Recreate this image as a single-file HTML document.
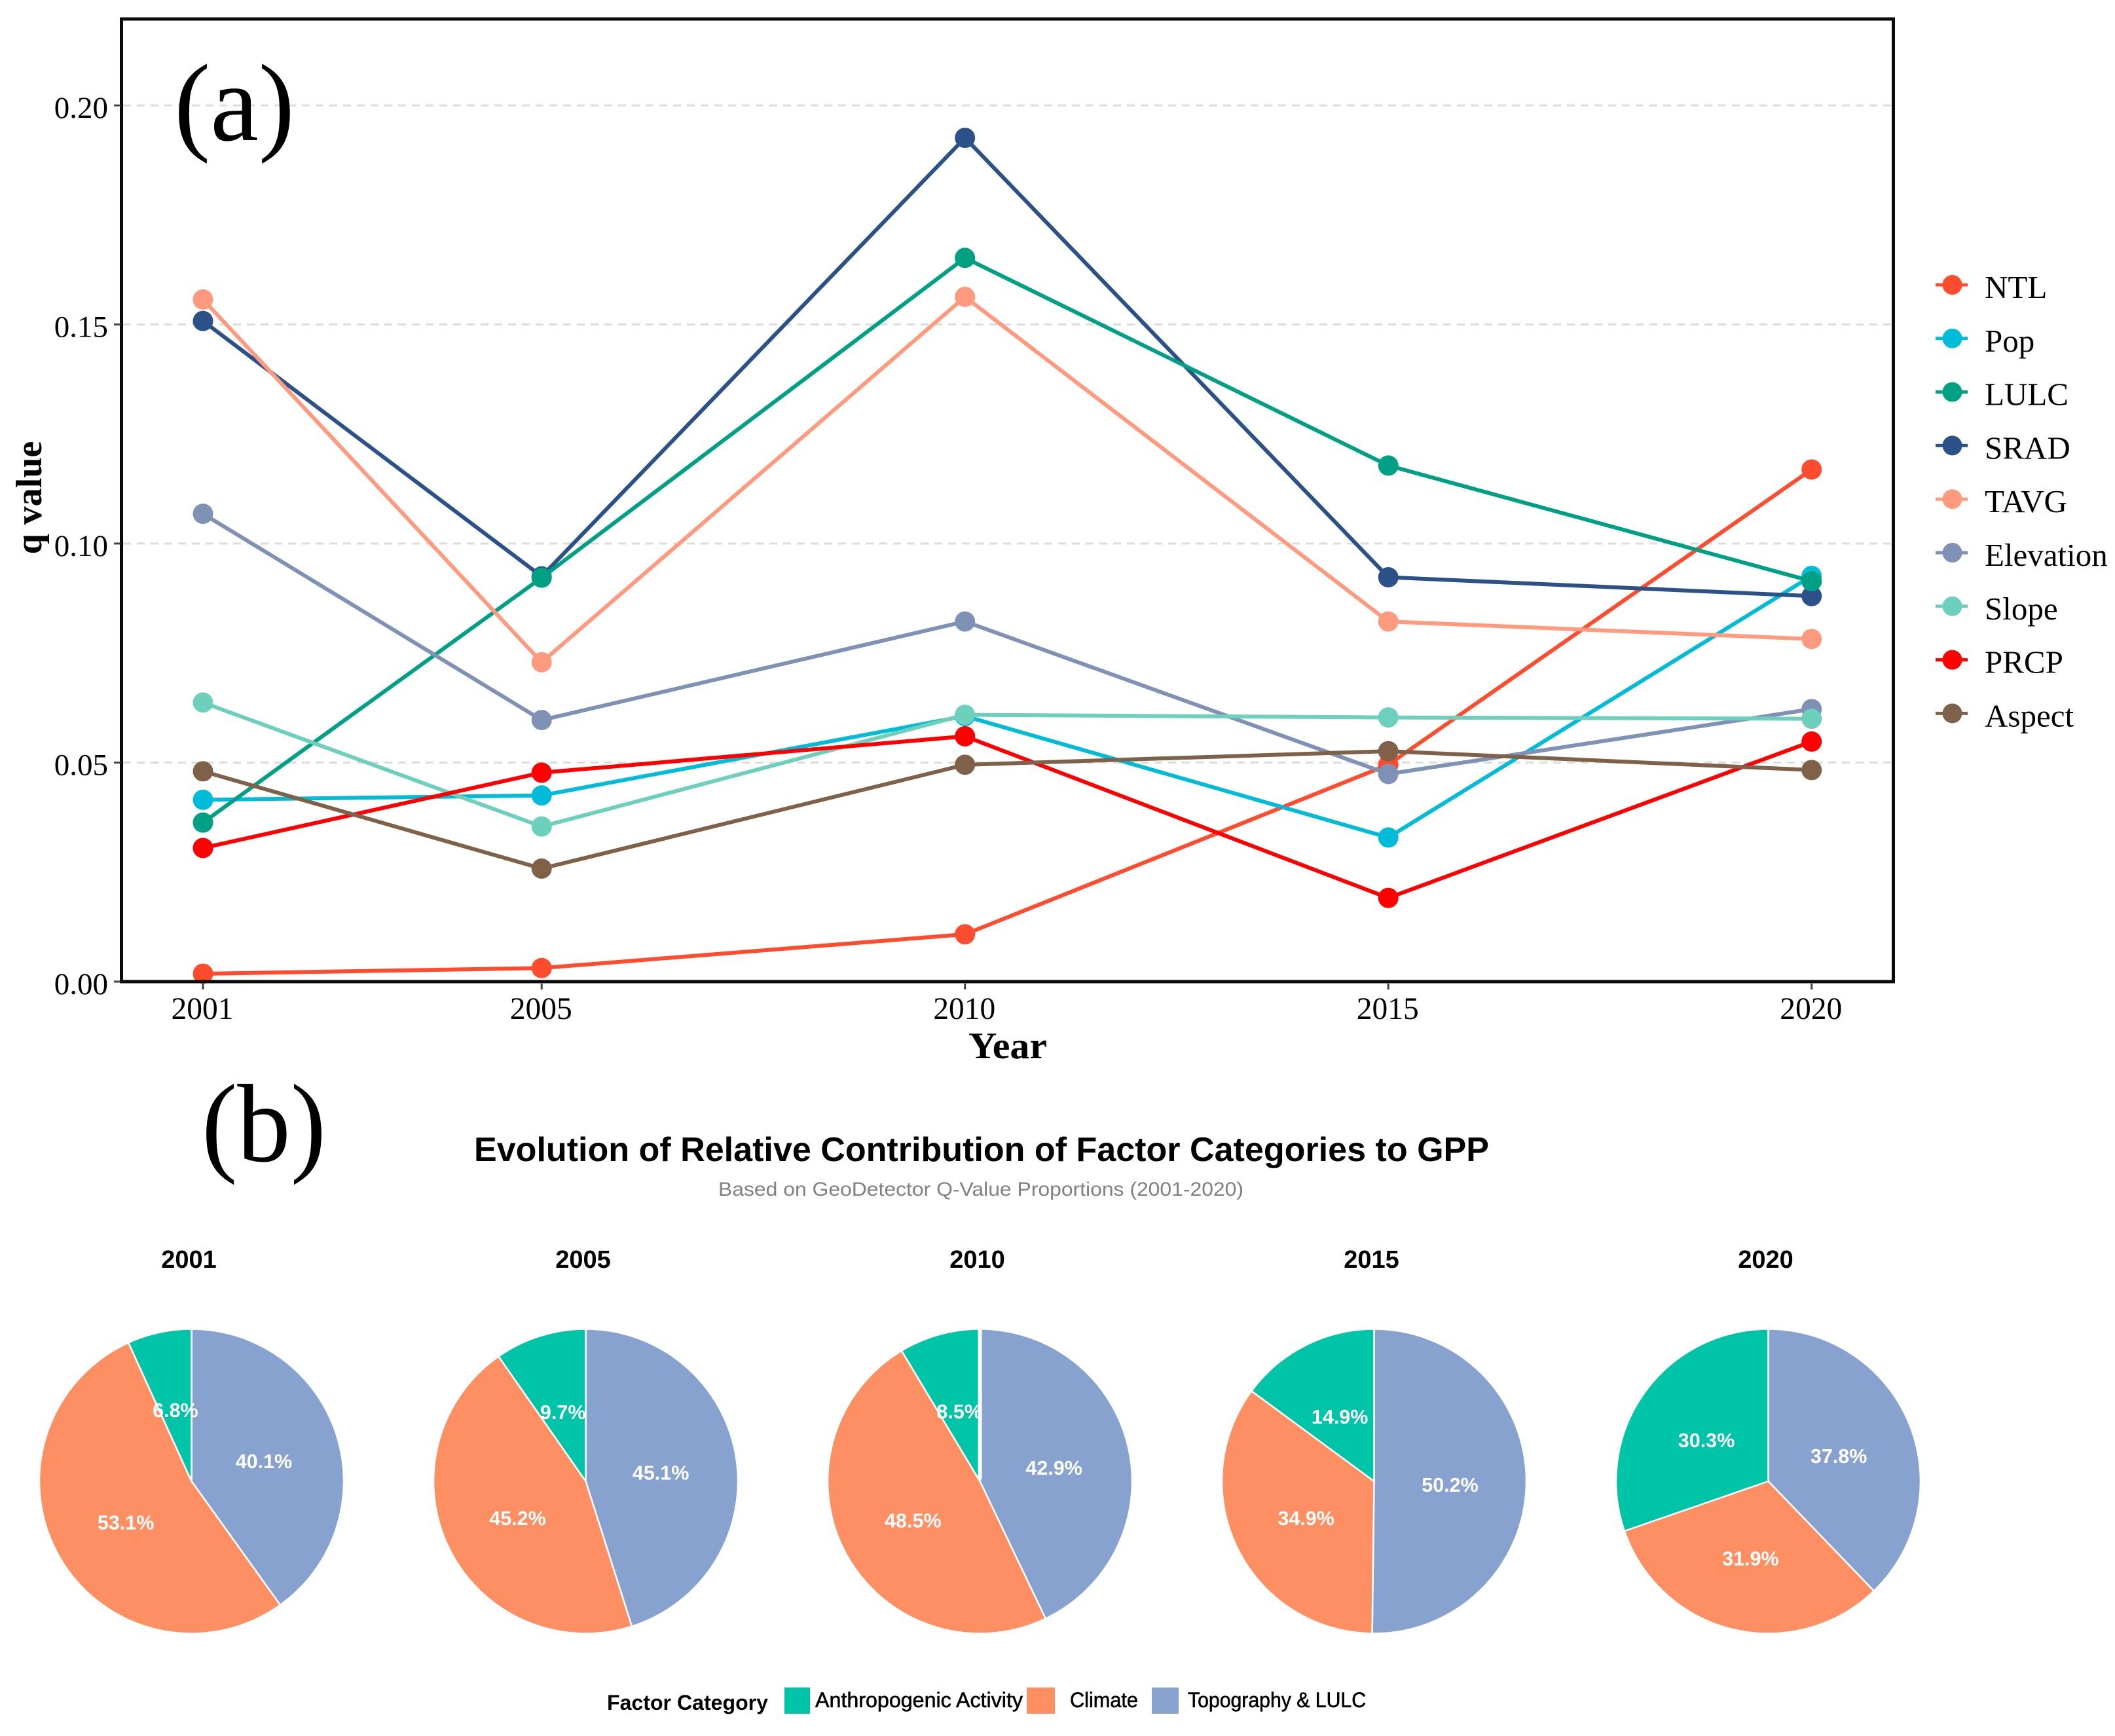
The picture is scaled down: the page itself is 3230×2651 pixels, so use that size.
<!DOCTYPE html>
<html lang="en">
<head>
<meta charset="utf-8">
<title>Q value trends and relative factor contribution to GPP</title>
<style>
  html, body { margin: 0; padding: 0; background: #fff; }
  svg { display: block; }
  .serif { font-family: "Liberation Serif", serif; }
  .sans { font-family: "Liberation Sans", sans-serif; }
</style>
</head>
<body>
<svg xmlns="http://www.w3.org/2000/svg" width="3230" height="2651" viewBox="0 0 3230 2651">
  <rect x="0" y="0" width="3230" height="2651" fill="#ffffff"/>

  <g id="grid"></g>
  <g id="series"></g>
  <rect x="185.5" y="29" width="2706" height="1470" fill="none" stroke="#0a0a0a" stroke-width="5"/>
  <g id="ticks"></g>

  <text class="serif" x="266" y="214" font-size="168" textLength="184" lengthAdjust="spacingAndGlyphs" fill="#000">(a)</text>
  <text class="serif" x="63" y="760" font-size="56" font-weight="bold" text-anchor="middle" transform="rotate(-90 63 760)" fill="#000">q value</text>
  <text class="serif" x="1479" y="1616" font-size="57" font-weight="bold" textLength="120" lengthAdjust="spacingAndGlyphs" fill="#000">Year</text>

  <g id="line-legend"></g>

  <text class="serif" x="308" y="1773" font-size="170" textLength="190" lengthAdjust="spacingAndGlyphs" fill="#000">(b)</text>
  <text class="sans" x="724" y="1773" font-size="52" font-weight="bold" textLength="1550" lengthAdjust="spacingAndGlyphs" fill="#000">Evolution of Relative Contribution of Factor Categories to GPP</text>
  <text class="sans" x="1097" y="1826" font-size="30" textLength="802" lengthAdjust="spacingAndGlyphs" fill="#808080">Based on GeoDetector Q-Value Proportions (2001-2020)</text>

  <g id="pies"></g>

  <g>
    <text class="sans" x="927" y="2611" font-size="32" font-weight="bold" textLength="246" lengthAdjust="spacingAndGlyphs" fill="#000">Factor Category</text>
    <rect x="1198" y="2577" width="39" height="40" fill="#00c4a7"/>
    <text class="sans" x="1245" y="2607" font-size="32" textLength="317" lengthAdjust="spacingAndGlyphs" fill="#000" stroke="#000" stroke-width="0.6">Anthropogenic Activity</text>
    <rect x="1568" y="2577" width="43" height="40" fill="#fe8f63"/>
    <text class="sans" x="1634" y="2607" font-size="32" textLength="104" lengthAdjust="spacingAndGlyphs" fill="#000" stroke="#000" stroke-width="0.6">Climate</text>
    <rect x="1759" y="2577" width="41" height="40" fill="#88a2cf"/>
    <text class="sans" x="1814" y="2607" font-size="32" textLength="272" lengthAdjust="spacingAndGlyphs" fill="#000" stroke="#000" stroke-width="0.6">Topography &amp; LULC</text>
  </g>
</svg>

<script>
// ---------- Line chart data ----------
const years = [2001, 2005, 2010, 2015, 2020];
const yTickValues = [0, 0.05, 0.10, 0.15, 0.20];
const yTickLabels = ['0.00', '0.05', '0.10', '0.15', '0.20'];
const gridValues = [0.05, 0.10, 0.15, 0.20];

const ntlValues = [0.0018, 0.0031, 0.0108, 0.0495, 0.1169];
const popValues = [0.0415, 0.0425, 0.0606, 0.0329, 0.0926];
const lulcValues = [0.0363, 0.0922, 0.1652, 0.1178, 0.0914];
const sradValues = [0.1508, 0.0925, 0.1926, 0.0923, 0.0880];
const tavgValues = [0.1557, 0.0729, 0.1563, 0.0822, 0.0782];
const elevationValues = [0.1068, 0.0597, 0.0822, 0.0474, 0.0622];
const slopeValues = [0.0637, 0.0354, 0.0609, 0.0603, 0.0600];
const prcpValues = [0.0305, 0.0477, 0.0560, 0.0191, 0.0548];
const aspectValues = [0.0480, 0.0258, 0.0495, 0.0526, 0.0483];

const seriesNames = ['NTL', 'Pop', 'LULC', 'SRAD', 'TAVG', 'Elevation', 'Slope', 'PRCP', 'Aspect'];
const seriesValues = [ntlValues, popValues, lulcValues, sradValues, tavgValues, elevationValues, slopeValues, prcpValues, aspectValues];
const seriesColors = ['#ff4b2e', '#00bcd8', '#00a085', '#2b5188', '#ff9a7f', '#7f91b5', '#6dd0bd', '#ff0000', '#7e6148'];
const drawOrder = [0, 1, 3, 2, 4, 5, 6, 7, 8];

// ---------- Pie chart data ----------
const pieYears = ['2001', '2005', '2010', '2015', '2020'];
const topographyShare = [40.1, 45.1, 42.9, 50.2, 37.8];
const climateShare = [53.1, 45.2, 48.5, 34.9, 31.9];
const anthropogenicShare = [6.8, 9.7, 8.5, 14.9, 30.3];
const pieColors = ['#88a2cf', '#fe8f63', '#00c4a7'];
const pieSliceNames = ['topography', 'climate', 'anthropogenic'];

// ---------- Axis functions ----------
function xScale(year) { return 310 + 129.3 * (year - 2001); }
function yScale(q) { return 1499 - 6690 * q; }

const NS = 'http://www.w3.org/2000/svg';
function make(parent, tag, props) {
  const el = document.createElementNS(NS, tag);
  for (const k in props) el.setAttribute(k, props[k]);
  parent.appendChild(el);
  return el;
}

// ---------- Gridlines ----------
const gridGroup = document.getElementById('grid');
gridValues.forEach(function (v) {
  const g = make(gridGroup, 'line', { x1: 188, x2: 2889, y1: yScale(v), y2: yScale(v), stroke: '#dcdcdc', 'stroke-width': 3, 'stroke-dasharray': '12 9' });
  
  
});

// ---------- Ticks ----------
const tickGroup = document.getElementById('ticks');
yTickValues.forEach(function (v, i) {
  const t = make(tickGroup, 'line', { x1: 174, x2: 184, y1: yScale(v), y2: yScale(v), stroke: '#444', 'stroke-width': 3 });
  
  
  const label = make(tickGroup, 'text', { x: 165, y: yScale(v) + 19, 'text-anchor': 'end', 'font-size': 47, fill: '#000', 'font-family': '"Liberation Serif", serif' });
  label.textContent = yTickLabels[i];
  
  
});
years.forEach(function (yr) {
  const t = make(tickGroup, 'line', { x1: xScale(yr), x2: xScale(yr), y1: 1502, y2: 1511, stroke: '#444', 'stroke-width': 3 });
  
  
  const label = make(tickGroup, 'text', { x: xScale(yr) - 1, y: 1556, 'text-anchor': 'middle', 'font-size': 47.5, fill: '#000', 'font-family': '"Liberation Serif", serif' });
  label.textContent = String(yr);
  
  
});

// ---------- Series ----------
const seriesGroup = document.getElementById('series');
drawOrder.forEach(function (idx) {
  const values = seriesValues[idx];
  const color = seriesColors[idx];
  const pts = values.map(function (v, i) { return xScale(years[i]) + ',' + yScale(v); }).join(' ');
  const line = make(seriesGroup, 'polyline', { points: pts, fill: 'none', stroke: color, 'stroke-width': 6, 'stroke-linejoin': 'round' });
  
  
  values.forEach(function (v, i) {
    const p = make(seriesGroup, 'circle', { cx: xScale(years[i]), cy: yScale(v), r: 15.5, fill: color });
    
    
  });
});

// ---------- Line legend ----------
const legendGroup = document.getElementById('line-legend');
seriesNames.forEach(function (name, i) {
  const y = 435 + 81.8 * i;
  const key = make(legendGroup, 'line', { x1: 2956, x2: 3005, y1: y, y2: y, stroke: seriesColors[i], 'stroke-width': 5 });
  
  
  const dot = make(legendGroup, 'circle', { cx: 2981.5, cy: y, r: 15, fill: seriesColors[i] });
  
  
  const label = make(legendGroup, 'text', { x: 3031, y: y + 20, 'font-size': 49, fill: '#000', 'font-family': '"Liberation Serif", serif' });
  label.textContent = name;
  
  
});

// ---------- Pies ----------
const pieGroup = document.getElementById('pies');
function pieCenterX(i) { return 292.5 + 602 * i; }
const pieCenterY = 2262;
const pieRadius = 232.5;

function polar(cx, cy, r, share) {
  const a = share / 100 * 2 * Math.PI;
  return [cx + r * Math.sin(a), cy - r * Math.cos(a)];
}

pieYears.forEach(function (yr, i) {
  const cx = pieCenterX(i);
  const shares = [topographyShare[i], climateShare[i], anthropogenicShare[i]];
  const title = make(pieGroup, 'text', { x: cx - 4, y: 1936, 'text-anchor': 'middle', 'font-size': 38, 'font-weight': 'bold', fill: '#000', 'font-family': '"Liberation Sans", sans-serif' });
  title.textContent = yr;
  
  

  let cum = 0;
  shares.forEach(function (s, j) {
    const a = polar(cx, pieCenterY, pieRadius, cum);
    const b = polar(cx, pieCenterY, pieRadius, cum + s);
    const large = s > 50 ? 1 : 0;
    const d = 'M' + cx + ' ' + pieCenterY + ' L' + a[0] + ' ' + a[1] + ' A' + pieRadius + ' ' + pieRadius + ' 0 ' + large + ' 1 ' + b[0] + ' ' + b[1] + ' Z';
    const slice = make(pieGroup, 'path', { d: d, fill: pieColors[j], stroke: '#fff', 'stroke-width': 2.5, 'stroke-linejoin': 'round' });
    
    
    cum += s;
  });

  if (shares[0] + shares[1] + shares[2] < 99.95) {
    const gap = make(pieGroup, 'line', { x1: cx, x2: cx, y1: pieCenterY - pieRadius - 2, y2: pieCenterY - 3, stroke: '#fff', 'stroke-width': 6 });
    
    
  }

  cum = 0;
  shares.forEach(function (s, j) {
    const mid = polar(cx, pieCenterY, 116, cum + s / 2);
    const label = make(pieGroup, 'text', { x: mid[0], y: mid[1] + 15.5, 'text-anchor': 'middle', 'font-size': 30.5, 'font-weight': 'bold', fill: '#fff', 'font-family': '"Liberation Sans", sans-serif' });
    label.textContent = s.toFixed(1) + '%';
    
    
    cum += s;
  });
});
</script>
</body>
</html>
